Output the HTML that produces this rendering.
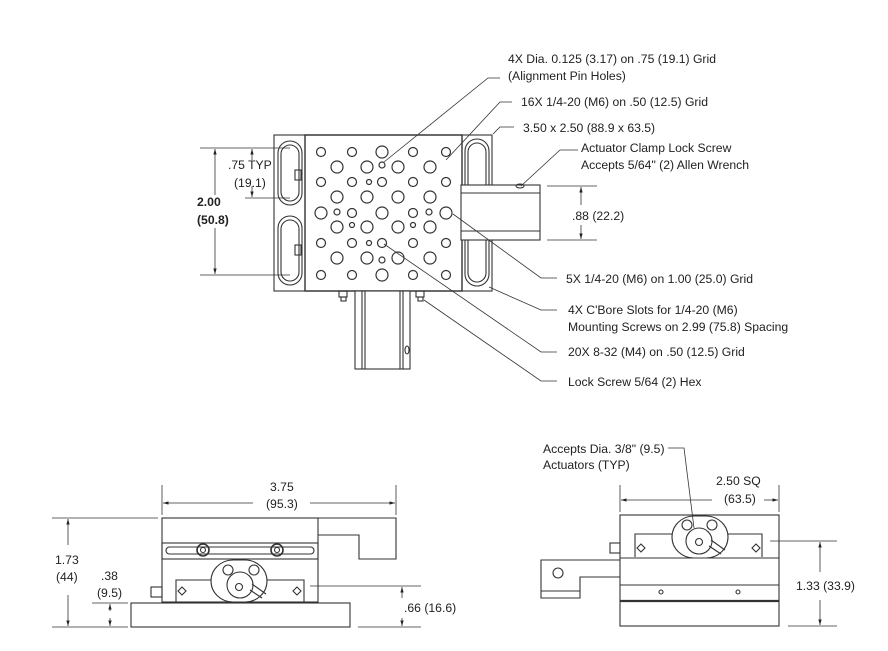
<!DOCTYPE html>
<html><head><meta charset="utf-8"><style>
html,body{margin:0;padding:0;background:#fff}
svg{display:block}
text{font-family:"Liberation Sans",sans-serif;font-size:12.2px;fill:#222}
</style></head><body>
<svg width="888" height="651" viewBox="0 0 888 651" xmlns="http://www.w3.org/2000/svg">
<defs>
<marker id="a" viewBox="0 0 10 10" refX="10" refY="5" markerWidth="7" markerHeight="7" orient="auto-start-reverse"><path d="M0,2 L10,5 L0,8 z" fill="#222"/></marker>
</defs>
<g stroke="#333" fill="none" stroke-width="1.1">
<rect x="274" y="135" width="218" height="156" fill="#fff"/>
<rect x="305" y="135" width="157" height="156" stroke-width="1.4"/>
<rect x="278" y="141" width="24" height="64" rx="12"/>
<rect x="281" y="145" width="18" height="56" rx="9"/>
<rect x="278" y="216" width="24" height="69" rx="12"/>
<rect x="281" y="220" width="18" height="61" rx="9"/>
<rect x="465" y="139" width="24" height="147" rx="12"/>
<rect x="468" y="143" width="18" height="139" rx="9"/>
<rect x="295" y="170" width="6" height="10"/><rect x="295" y="245" width="6" height="10"/>
<rect x="461" y="185" width="79" height="55" fill="#fff"/>
<line x1="461" y1="193" x2="540" y2="193"/><line x1="461" y1="231" x2="540" y2="231"/>
<ellipse cx="520" cy="186" rx="4" ry="2"/>
<rect x="355" y="291" width="55" height="78" fill="#fff"/>
<line x1="362" y1="291" x2="362" y2="369"/><line x1="365" y1="291" x2="365" y2="369"/>
<line x1="400" y1="291" x2="400" y2="369"/><line x1="403" y1="291" x2="403" y2="369"/>
<ellipse cx="407" cy="350" rx="2" ry="4"/>
<rect x="339" y="291" width="8" height="6"/><rect x="341" y="297" width="5" height="4"/>
<rect x="416" y="291" width="8" height="6"/><rect x="418" y="297" width="5" height="4"/>
<g stroke-width="1.2">
<circle cx="321" cy="152" r="4.5"/><circle cx="352" cy="152" r="4.5"/><circle cx="382" cy="152" r="6"/><circle cx="413" cy="152" r="4.5"/><circle cx="446" cy="152" r="4.5"/>
<circle cx="337" cy="167" r="6"/><circle cx="367" cy="167" r="6"/><circle cx="382" cy="165" r="3"/><circle cx="398" cy="167" r="6"/><circle cx="430" cy="167" r="6"/>
<circle cx="321" cy="182" r="4.5"/><circle cx="352" cy="182" r="4.5"/><circle cx="369" cy="182" r="2.5"/><circle cx="382" cy="182" r="4.5"/><circle cx="413" cy="182" r="4.5"/><circle cx="446" cy="182" r="4.5"/>
<circle cx="337" cy="197" r="6"/><circle cx="367" cy="197" r="6"/><circle cx="398" cy="197" r="6"/><circle cx="430" cy="197" r="6"/>
<circle cx="321" cy="213" r="6"/><circle cx="337" cy="212" r="3"/><circle cx="352" cy="213" r="4.5"/><circle cx="382" cy="213" r="6"/><circle cx="413" cy="213" r="4.5"/><circle cx="429" cy="212" r="3"/><circle cx="446" cy="213" r="6"/>
<circle cx="337" cy="227" r="6"/><circle cx="352" cy="225" r="2.5"/><circle cx="367" cy="227" r="6"/><circle cx="398" cy="227" r="6"/><circle cx="413" cy="225" r="2.5"/><circle cx="430" cy="227" r="6"/>
<circle cx="321" cy="243" r="4.5"/><circle cx="352" cy="243" r="4.5"/><circle cx="369" cy="243" r="2.5"/><circle cx="382" cy="243" r="4.5"/><circle cx="413" cy="243" r="4.5"/><circle cx="446" cy="243" r="4.5"/>
<circle cx="337" cy="258" r="6"/><circle cx="367" cy="258" r="6"/><circle cx="382" cy="260" r="3"/><circle cx="398" cy="258" r="6"/><circle cx="430" cy="258" r="6"/>
<circle cx="321" cy="275" r="4.5"/><circle cx="352" cy="275" r="4.5"/><circle cx="382" cy="275" r="6"/><circle cx="413" cy="275" r="4.5"/><circle cx="446" cy="275" r="4.5"/>
</g>
<line x1="200" y1="148" x2="290" y2="148" stroke-width="0.8"/>
<line x1="245" y1="198" x2="290" y2="198" stroke-width="0.8"/>
<line x1="200" y1="275" x2="290" y2="275" stroke-width="0.8"/>
<line x1="252" y1="160" x2="252" y2="149" marker-end="url(#a)" stroke-width="0.8"/>
<line x1="252" y1="186" x2="252" y2="197" marker-end="url(#a)" stroke-width="0.8"/>
<line x1="215" y1="149" x2="215" y2="195" marker-start="url(#a)" stroke-width="0.8"/>
<line x1="215" y1="228" x2="215" y2="274" marker-end="url(#a)" stroke-width="0.8"/>
<line x1="547" y1="186" x2="597" y2="186" stroke-width="0.8"/>
<line x1="547" y1="240" x2="597" y2="240" stroke-width="0.8"/>
<line x1="581" y1="205" x2="581" y2="187" marker-end="url(#a)" stroke-width="0.8"/>
<line x1="581" y1="225" x2="581" y2="239" marker-end="url(#a)" stroke-width="0.8"/>
<g stroke-width="0.8">
<polyline points="500,78 488,78 384,162"/>
<polyline points="512,102 500,102 446,160"/>
<polyline points="514,127 500,127 493,134"/>
<polyline points="578,150 560,150 521,186"/>
<polyline points="557,278 541,278 453,214"/>
<polyline points="557,310 541,310 489,287"/>
<polyline points="557,352 541,352 384,244"/>
<polyline points="557,381 541,381 424,300"/>
</g>
<rect x="162" y="518" width="156" height="84" fill="#fff"/>
<polyline points="318,518 396,518 396,559 359,559 359,535 318,535"/>
<rect x="162" y="543" width="156" height="16"/>
<rect x="166" y="547" width="148" height="7" rx="3.5"/>
<circle cx="203" cy="550" r="6" stroke-width="1.6"/><circle cx="203" cy="550" r="2.5"/>
<circle cx="277" cy="550" r="6" stroke-width="1.6"/><circle cx="277" cy="550" r="2.5"/>
<polyline points="176,602 176,580 304,580 304,602"/>
<rect x="211" y="560" width="56" height="42" rx="22" fill="#fff"/>
<circle cx="228" cy="570" r="5"/><circle cx="254" cy="570" r="5"/>
<circle cx="240" cy="585" r="13"/><circle cx="239" cy="587" r="3.5"/>
<line x1="252" y1="584" x2="266" y2="594"/><line x1="250" y1="590" x2="262" y2="598"/>
<path d="M178,591 l4,-4 4,4 -4,4z"/><path d="M301,591 l-4,-4 -4,4 4,4z"/>
<rect x="151" y="587" width="11" height="10"/>
<rect x="131" y="603" width="219" height="24" fill="#fff"/>
<g stroke-width="0.8">
<line x1="162" y1="485" x2="162" y2="515"/><line x1="396" y1="485" x2="396" y2="515"/>
<line x1="253" y1="503" x2="163" y2="503" marker-end="url(#a)"/>
<line x1="310" y1="503" x2="395" y2="503" marker-end="url(#a)"/>
<line x1="52" y1="518" x2="158" y2="518"/><line x1="52" y1="627" x2="128" y2="627"/>
<line x1="68" y1="545" x2="68" y2="519" marker-end="url(#a)"/>
<line x1="68" y1="595" x2="68" y2="626" marker-end="url(#a)"/>
<line x1="92" y1="603" x2="128" y2="603"/>
<line x1="110" y1="611" x2="110" y2="604" marker-end="url(#a)" stroke-dasharray="3,2"/>
<line x1="110" y1="618" x2="110" y2="626" marker-end="url(#a)" stroke-dasharray="3,2"/>
<line x1="310" y1="586" x2="421" y2="586"/><line x1="358" y1="627" x2="421" y2="627"/>
<line x1="402" y1="598" x2="402" y2="587" marker-end="url(#a)"/>
<line x1="402" y1="618" x2="402" y2="626" marker-end="url(#a)"/>
</g>
<rect x="620" y="515" width="159" height="111" fill="#fff"/>
<line x1="620" y1="558" x2="779" y2="558"/><line x1="620" y1="585" x2="779" y2="585"/>
<line x1="620" y1="601" x2="779" y2="601" stroke-width="2.2"/>
<circle cx="661" cy="592" r="2"/><circle cx="738" cy="592" r="2"/>
<polyline points="635,557 635,534 762,534 762,557"/>
<rect x="672" y="516" width="56" height="42" rx="22" fill="#fff"/>
<circle cx="687" cy="525" r="5"/><circle cx="712" cy="525" r="5"/>
<circle cx="699" cy="541" r="13"/><circle cx="699" cy="542" r="3.5"/>
<line x1="711" y1="540" x2="725" y2="550"/><line x1="709" y1="546" x2="721" y2="554"/>
<path d="M637,548 l4,-4 4,4 -4,4z"/><path d="M760,548 l-4,-4 -4,4 4,4z"/>
<rect x="610" y="543" width="10" height="10"/>
<polyline points="620,560 541,560 541,598 580,598 580,577 620,577"/>
<line x1="541" y1="591" x2="580" y2="591"/>
<circle cx="558" cy="573" r="5"/>
<g stroke-width="0.8">
<line x1="620" y1="485" x2="620" y2="512"/><line x1="779" y1="485" x2="779" y2="512"/>
<line x1="712" y1="500" x2="621" y2="500" marker-end="url(#a)"/>
<line x1="764" y1="500" x2="778" y2="500" marker-end="url(#a)"/>
<line x1="770" y1="541" x2="837" y2="541"/><line x1="788" y1="626" x2="837" y2="626"/>
<line x1="820" y1="572" x2="820" y2="542" marker-end="url(#a)"/>
<line x1="820" y1="600" x2="820" y2="625" marker-end="url(#a)"/>
<polyline points="668,448 684,448 694,528"/>
</g>
</g>
<text x="508" y="63">4X  Dia. 0.125 (3.17) on .75 (19.1) Grid</text>
<text x="508" y="80">(Alignment Pin Holes)</text>
<text x="521" y="106">16X 1/4-20 (M6) on .50 (12.5) Grid</text>
<text x="523" y="132">3.50 x 2.50 (88.9 x 63.5)</text>
<text x="581" y="152">Actuator Clamp Lock Screw</text>
<text x="581" y="169">Accepts 5/64" (2) Allen Wrench</text>
<text x="572" y="220">.88 (22.2)</text>
<text x="566" y="283">5X 1/4-20 (M6) on 1.00 (25.0) Grid</text>
<text x="568" y="314">4X C'Bore Slots for 1/4-20 (M6)</text>
<text x="568" y="331">Mounting Screws on 2.99 (75.8) Spacing</text>
<text x="568" y="356">20X 8-32 (M4) on .50 (12.5) Grid</text>
<text x="568" y="386">Lock Screw 5/64 (2) Hex</text>
<text x="228" y="169">.75 TYP</text>
<text x="234" y="187">(19.1)</text>
<text x="197" y="206" style="font-weight:bold">2.00</text>
<text x="197" y="224" style="font-weight:bold">(50.8)</text>
<text x="270" y="491">3.75</text>
<text x="266" y="508">(95.3)</text>
<text x="55" y="564">1.73</text>
<text x="56" y="581">(44)</text>
<text x="101" y="580">.38</text>
<text x="97" y="597">(9.5)</text>
<text x="404" y="612">.66 (16.6)</text>
<text x="543" y="453">Accepts Dia. 3/8" (9.5)</text>
<text x="543" y="469">Actuators (TYP)</text>
<text x="716" y="485">2.50  SQ</text>
<text x="724" y="503">(63.5)</text>
<text x="796" y="590">1.33 (33.9)</text>
</svg>
</body></html>
